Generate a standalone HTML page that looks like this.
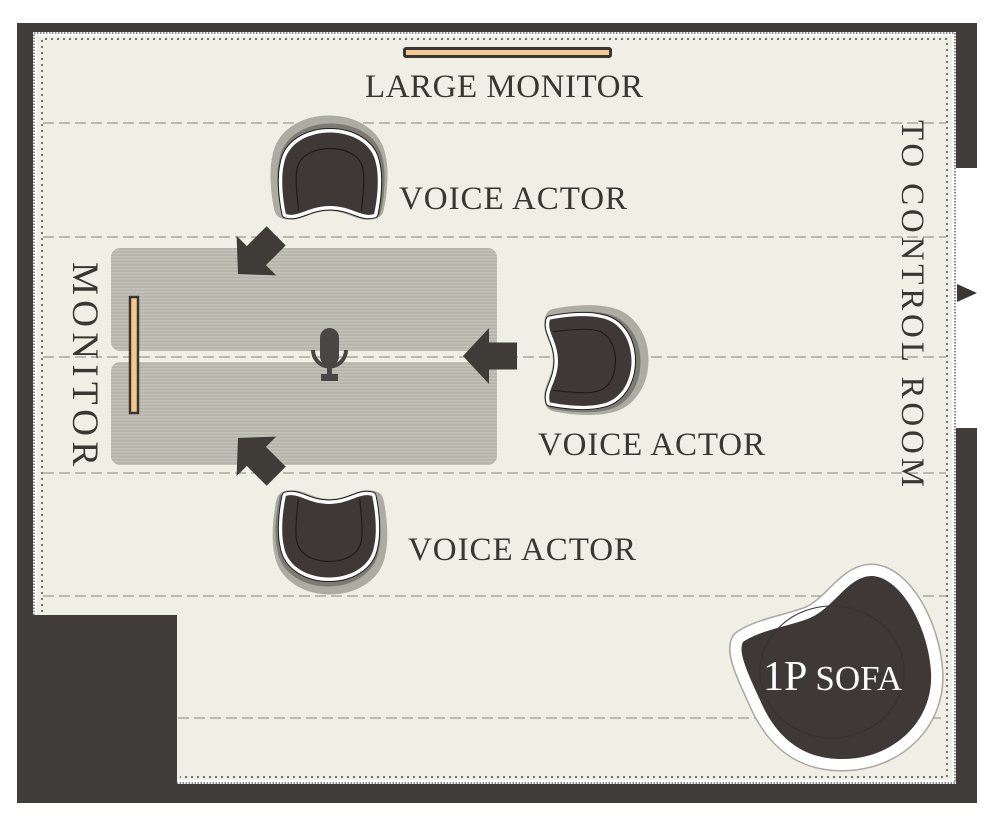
<!DOCTYPE html>
<html>
<head>
<meta charset="utf-8">
<style>
  html,body{margin:0;padding:0;background:#fff;}
  svg{display:block;}
  text{font-family:"Liberation Serif","DejaVu Serif",serif;}
</style>
</head>
<body>
<svg width="1000" height="825" viewBox="0 0 1000 825" xmlns="http://www.w3.org/2000/svg">
  <defs>
    <pattern id="stripes" patternUnits="userSpaceOnUse" width="10" height="3.2">
      <rect x="0" y="0" width="10" height="3.2" fill="#b5b4ab"/>
      <rect x="0" y="0" width="10" height="1.5" fill="#c3c2b9"/>
    </pattern>
    <path id="chair" d="M -45,40 C -49,22 -50,2 -47,-10 C -40,-52 40,-52 47,-10 C 50,2 49,22 45,40 C 32,44 22,32 0,32 C -22,32 -32,44 -45,40 Z"/>
    <path id="chairIn" d="M -32,37 C -35,10 -36,-4 -31,-12 C -20,-30 20,-30 31,-12 C 36,-4 35,10 32,37" fill="none"/>
    <g id="chairG">
      <use href="#chair" transform="translate(-1,-6)" fill="#adaca3" stroke="#adaca3" stroke-width="22" stroke-linejoin="round"/>
      <use href="#chair" transform="translate(1,-3)" fill="#7c7a73" stroke="#7c7a73" stroke-width="12" stroke-linejoin="round"/>
      <use href="#chair" fill="#1e1b19" stroke="#1e1b19" stroke-width="9" stroke-linejoin="round"/>
      <use href="#chair" fill="#ffffff" stroke="#ffffff" stroke-width="7" stroke-linejoin="round"/>
      <use href="#chair" fill="#3e3936"/>
      <use href="#chairIn" stroke="#1f1b19" stroke-width="1.2"/>
    </g>
    <polygon id="arrow" points="0,0 26,-28 26,-13.5 54,-13.5 54,13.5 26,13.5 26,28"/>
  </defs>

  <!-- walls -->
  <rect x="17" y="23" width="960" height="780" fill="#413d3a"/>
  <rect x="956" y="168" width="30" height="260" fill="#ffffff"/>
  <!-- white band + cream floor -->
  <rect x="33" y="32" width="923" height="752" fill="#ffffff"/>
  <rect x="37" y="36" width="915" height="744" fill="#efefe5"/>
  <!-- bottom-left block -->
  <rect x="17" y="615" width="160" height="188" fill="#413d3a"/>

  <!-- boundary dotted -->
  <path d="M 34,615 L 34,33 L 955,33 L 955,783 L 177,783" fill="none" stroke="#4a4a48" stroke-width="1.3" stroke-dasharray="1.5 1.5"/>
  <!-- inner dotted -->
  <path d="M 42,612 L 42,39 L 947,39 L 947,777 L 180,777" fill="none" stroke="#4a4a48" stroke-width="1.4" stroke-dasharray="2 4"/>

  <!-- dashed grid lines -->
  <g stroke="#9b9a92" stroke-width="1.2" stroke-dasharray="11 5" fill="none">
    <line x1="43" y1="123" x2="946" y2="123"/>
    <line x1="43" y1="237" x2="946" y2="237"/>
    <line x1="43" y1="357" x2="946" y2="357"/>
    <line x1="43" y1="473" x2="946" y2="473"/>
    <line x1="43" y1="596" x2="946" y2="596"/>
    <line x1="178" y1="718" x2="946" y2="718"/>
  </g>

  <!-- door arrow -->
  <polygon points="957,284 977,293 957,302" fill="#3a3633"/>

  <!-- large monitor -->
  <rect x="404.5" y="48.5" width="206" height="8" rx="1.5" fill="#f2c98f" stroke="#3a3633" stroke-width="3"/>
  <text x="365" y="97" font-size="33" fill="#3a3632" textLength="278" lengthAdjust="spacing">LARGE MONITOR</text>

  <!-- table -->
  <rect x="111" y="248" width="386" height="103" rx="9" fill="url(#stripes)"/>
  <rect x="111" y="362" width="386" height="103" rx="9" fill="url(#stripes)"/>

  <!-- side monitor -->
  <rect x="130" y="297" width="8" height="116" fill="#f5c88c" stroke="#3a3633" stroke-width="2.5"/>

  <!-- microphone -->
  <g fill="#494643">
    <rect x="320" y="328" width="19" height="38" rx="9.5"/>
    <path d="M 313,350 A 16.5 16.5 0 0 0 346,350" fill="none" stroke="#494643" stroke-width="4"/>
    <rect x="327" y="366" width="5" height="9"/>
    <rect x="321" y="374" width="17" height="7"/>
  </g>

  <!-- arrows -->
  <g fill="#3f3c37">
    <use href="#arrow" transform="translate(238,274) rotate(-45)"/>
    <use href="#arrow" transform="translate(463,356)"/>
    <use href="#arrow" transform="translate(238,438) rotate(45)"/>
  </g>

  <!-- chairs -->
  <use href="#chairG" transform="translate(330,174) scale(0.98,1)"/>
  <use href="#chairG" transform="translate(590,361) rotate(90) scale(0.92,1)"/>
  <use href="#chairG" transform="translate(329,536) rotate(180) scale(0.96,1)"/>

  <!-- labels -->
  <text x="399" y="209" font-size="33" fill="#3a3632" textLength="228" lengthAdjust="spacing">VOICE ACTOR</text>
  <text x="538" y="455" font-size="33" fill="#3a3632" textLength="227" lengthAdjust="spacing">VOICE ACTOR</text>
  <text x="408" y="560" font-size="33" fill="#3a3632" textLength="228" lengthAdjust="spacing">VOICE ACTOR</text>

  <text transform="translate(73,262) rotate(90)" x="0" y="0" font-size="37" fill="#3a3632" textLength="204" lengthAdjust="spacing">MONITOR</text>
  <text transform="translate(902,120) rotate(90)" x="0" y="0" font-size="33" fill="#3a3632" textLength="367" lengthAdjust="spacing">TO CONTROL ROOM</text>

  <!-- sofa -->
  <path d="M 743,642 C 760,630 790,626 810,618 C 835,607 848,576 872,576 C 900,577 928,625 931,672 C 934,720 895,759 842,759 C 800,759 775,735 760,700 C 750,678 737,652 743,642 Z" fill="#a9a8a0" stroke="#a9a8a0" stroke-width="25" stroke-linejoin="round"/>
  <path d="M 743,642 C 760,630 790,626 810,618 C 835,607 848,576 872,576 C 900,577 928,625 931,672 C 934,720 895,759 842,759 C 800,759 775,735 760,700 C 750,678 737,652 743,642 Z" fill="#ffffff" stroke="#ffffff" stroke-width="22" stroke-linejoin="round"/>
  <path d="M 743,642 C 760,630 790,626 810,618 C 835,607 848,576 872,576 C 900,577 928,625 931,672 C 934,720 895,759 842,759 C 800,759 775,735 760,700 C 750,678 737,652 743,642 Z" fill="#3e3936"/>
  <ellipse cx="832" cy="672" rx="72" ry="66" fill="none" stroke="#36322f" stroke-width="1"/>
  <text x="763" y="690" fill="#ffffff"><tspan font-size="42">1P</tspan><tspan font-size="35" dx="8">SOFA</tspan></text>
</svg>
</body>
</html>
